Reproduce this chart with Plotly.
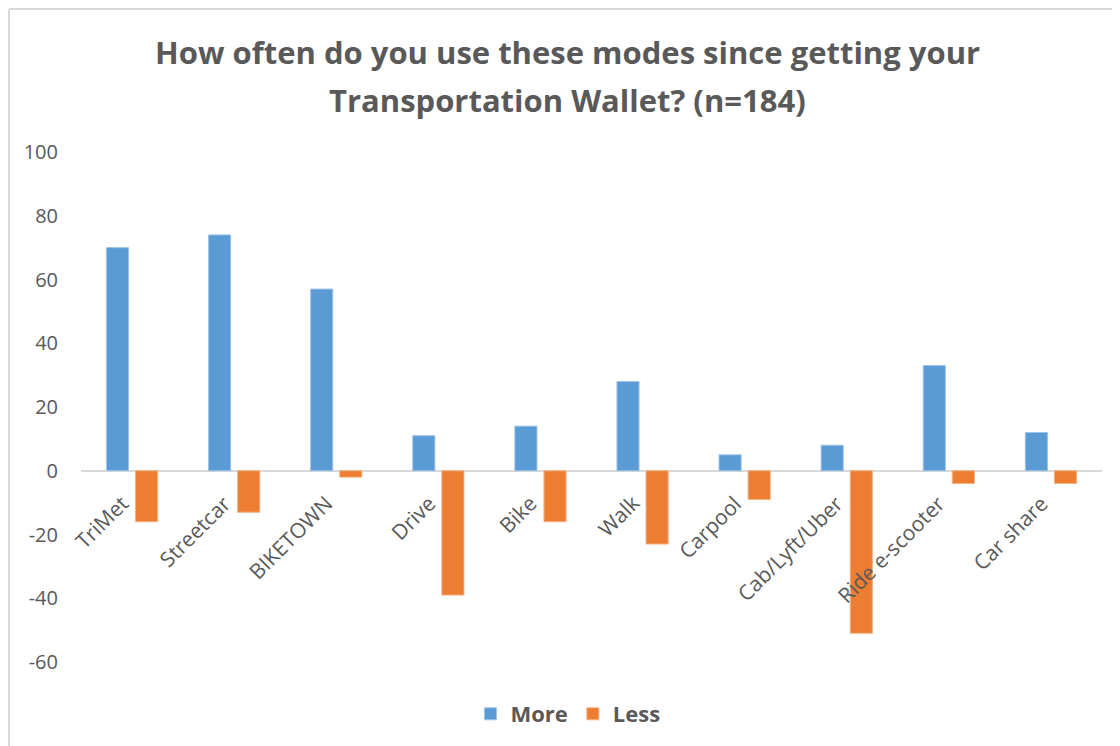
import plotly.graph_objects as go

# Survey data
modes = ["TriMet", "Streetcar", "BIKETOWN", "Drive", "Bike", "Walk",
         "Carpool", "Cab/Lyft/Uber", "Ride e-scooter", "Car share"]
more = [70, 74, 57, 11, 14, 28, 5, 8, 33, 12]
less = [-16, -13, -2, -39, -16, -23, -9, -51, -4, -4]
y_ticks = [100, 80, 60, 40, 20, 0, -20, -40, -60]
y_tick_text = ["100", "80", "60", "40", "20", "0", "-20", "-40", "-60"]
title_lines = ["How often do you use these modes since getting your",
               "Transportation Wallet? (n=184)"]

BLUE = "#5B9BD5"
ORANGE = "#ED7D31"
TEXT = "#595959"
FONT = "Open Sans"

# page body adds an 8px margin, so the figure is a bit smaller than the window
W, H = 1112, 738
L, R, T, B = 73, 18, 144, 84
pw = W - L - R
ph = H - T - B


def px_x(x):
    return (x - L) / pw


def px_y(y):
    return (H - B - y) / ph


fig = go.Figure()
fig.add_trace(go.Bar(x=modes, y=more, name="More", marker_color=BLUE,
                     marker_line=dict(color="#9DC3E6", width=1)))
fig.add_trace(go.Bar(x=modes, y=less, name="Less", marker_color=ORANGE,
                     marker_line=dict(color="#F4B183", width=1)))

# category labels sit just under the zero line, rotated like the Excel axis
for m in modes:
    fig.add_annotation(x=m, y=0, xref="x", yref="y", text=m, showarrow=False,
                       textangle=-45, xanchor="right", yanchor="top",
                       yshift=-16, xshift=5,
                       font=dict(family=FONT, size=21, color=TEXT))

for i, line in enumerate(title_lines):
    fig.add_annotation(x=px_x(559.5), y=px_y(44 + 48 * i), xref="paper", yref="paper",
                       text=line, showarrow=False, xanchor="center", yanchor="middle",
                       font=dict(family=FONT, size=31, color=TEXT, weight="bold"))

# outer chart border (only the top and left edges show in the frame)
fig.add_shape(type="line", xref="paper", yref="paper",
              x0=px_x(1), x1=px_x(W), y0=px_y(1), y1=px_y(1),
              line=dict(color="#D9D9D9", width=2), layer="below")
fig.add_shape(type="line", xref="paper", yref="paper",
              x0=px_x(1), x1=px_x(1), y0=px_y(1), y1=px_y(H),
              line=dict(color="#D9D9D9", width=2), layer="below")

fig.update_layout(
    width=W, height=H,
    margin=dict(l=L, r=R, t=T, b=B, autoexpand=False),
    paper_bgcolor="white", plot_bgcolor="white",
    barmode="group", bargap=0.43, bargroupgap=0.24,
    showlegend=True,
    legend=dict(orientation="h", x=px_x(560), xanchor="center", y=px_y(706), yanchor="middle",
                font=dict(family=FONT, size=22, color=TEXT, weight="bold"),
                itemwidth=30, traceorder="normal"),
    font=dict(family=FONT, color=TEXT),
)
fig.update_xaxes(range=[-0.5, 9.5], showticklabels=False, showgrid=False, zeroline=False,
                 showline=False, ticks="", automargin=False)
fig.update_yaxes(range=[-60, 100], tickvals=y_ticks, ticktext=y_tick_text, showgrid=False,
                 zeroline=True, zerolinecolor="#D9D9D9", zerolinewidth=2,
                 showline=False, ticks="", ticklabelstandoff=22, automargin=False,
                 tickfont=dict(family=FONT, size=20, color=TEXT))

fig.write_html("out.html")
